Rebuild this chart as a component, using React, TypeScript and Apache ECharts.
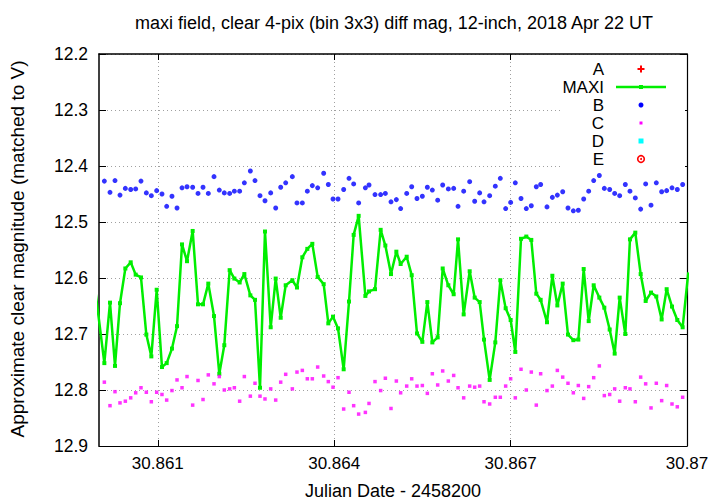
import React, { useEffect, useRef } from "react";
import * as echarts from "echarts";

const TITLE = "maxi field, clear 4-pix (bin 3x3) diff mag, 12-inch, 2018 Apr 22 UT";
const X_LABEL = "Julian Date - 2458200";
const Y_LABEL = "Approximate clear magnitude (matched to V)";
const X_TICKS = [30.861, 30.864, 30.867, 30.87];
const LEGEND_NAMES = ["A", "MAXI", "B", "C", "D", "E"];

const jd = [
  30.859911,
  30.860091, 30.860187, 30.860272, 30.860357, 30.860448, 30.860539, 30.860624, 30.860714, 30.860805, 30.86089,
  30.860981, 30.861071, 30.861151, 30.861241, 30.861327, 30.861412, 30.861497, 30.861593, 30.861684, 30.861769,
  30.861859, 30.861956, 30.862046, 30.862131, 30.862222, 30.862302, 30.862392, 30.862472, 30.862574, 30.862653,
  30.862738, 30.862823, 30.86292, 30.863005, 30.86309, 30.863175, 30.863288, 30.863367, 30.863458, 30.863543,
  30.863628, 30.863719, 30.863821, 30.8639, 30.86398, 30.864065, 30.864161, 30.864252, 30.864331, 30.864416,
  30.86453, 30.864592, 30.864694, 30.86479, 30.86487, 30.864966, 30.865057, 30.86513, 30.865233, 30.865318,
  30.865408, 30.865499, 30.865584, 30.865669, 30.86576, 30.865845, 30.865941, 30.866032, 30.866106, 30.866202,
  30.866304, 30.866389, 30.866474, 30.866548, 30.866644, 30.86674, 30.866825, 30.866916, 30.867001, 30.86708,
  30.867177, 30.867267, 30.867352, 30.867437, 30.867511, 30.867619, 30.86771, 30.867795, 30.867886, 30.867976,
  30.868067, 30.868152, 30.868243, 30.868328, 30.868413, 30.868509, 30.868594, 30.868685, 30.86877, 30.868855,
  30.868951, 30.86903, 30.869121, 30.869212, 30.869297, 30.869388, 30.869478, 30.869569, 30.869654, 30.869745,
  30.869835, 30.869926,
  30.870022,
];

const maxi = [
  12.6,
  12.752, 12.644, 12.757, 12.645, 12.583, 12.572, 12.594, 12.599, 12.701, 12.74,
  12.621, 12.759, 12.752, 12.726, 12.686, 12.54, 12.57, 12.516, 12.647, 12.647,
  12.61, 12.668, 12.771, 12.72, 12.586, 12.601, 12.608, 12.593, 12.631, 12.639,
  12.796, 12.517, 12.688, 12.601, 12.671, 12.613, 12.604, 12.617, 12.563, 12.548,
  12.539, 12.598, 12.611, 12.681, 12.669, 12.69, 12.763, 12.642, 12.523, 12.489,
  12.632, 12.624, 12.62, 12.514, 12.542, 12.593, 12.553, 12.575, 12.562, 12.595,
  12.699, 12.714, 12.643, 12.715, 12.706, 12.583, 12.613, 12.629, 12.531, 12.665,
  12.588, 12.635, 12.643, 12.71, 12.782, 12.715, 12.604, 12.654, 12.675, 12.732,
  12.53, 12.526, 12.532, 12.628, 12.639, 12.679, 12.596, 12.649, 12.61, 12.701,
  12.711, 12.71, 12.584, 12.677, 12.613, 12.635, 12.653, 12.692, 12.735, 12.635,
  12.7, 12.531, 12.519, 12.593, 12.641, 12.626, 12.633, 12.674, 12.62, 12.651,
  12.675, 12.688,
  12.59,
];

const compB = [
  null,
  12.427, 12.447, 12.426, 12.452, 12.44, 12.442, 12.441, 12.427, 12.448, 12.453,
  12.444, 12.45, 12.472, 12.454, 12.475, 12.439, 12.437, 12.438, 12.449, 12.438,
  12.449, 12.419, 12.443, 12.448, 12.449, 12.445, 12.445, 12.43, 12.409, 12.426,
  12.453, 12.462, 12.448, 12.475, 12.438, 12.43, 12.419, 12.466, 12.466, 12.445,
  12.435, 12.439, 12.413, 12.433, 12.459, 12.459, 12.442, 12.422, 12.432, 12.466,
  12.439, 12.434, 12.451, 12.451, 12.449, 12.464, 12.46, 12.476, 12.449, 12.437,
  12.458, 12.454, 12.438, 12.443, 12.461, 12.434, 12.441, 12.44, 12.472, 12.445,
  12.428, 12.463, 12.448, 12.464, 12.453, 12.436, 12.422, 12.476, 12.465, 12.43,
  12.458, 12.476, 12.471, 12.437, 12.433, 12.473, 12.456, 12.452, 12.446, 12.475,
  12.48, 12.479, 12.459, 12.445, 12.426, 12.417, 12.44, 12.442, 12.449, 12.453,
  12.433, 12.445, 12.457, 12.477, 12.432, 12.47, 12.43, 12.446, 12.444, 12.439,
  12.442, 12.433,
  null,
];

const compC = [
  null,
  12.786, 12.828, 12.803, 12.823, 12.82, 12.814, 12.805, 12.796, 12.804, 12.821,
  12.804, 12.808, 12.818, 12.801, 12.782, 12.796, 12.776, 12.827, 12.783, 12.817,
  12.773, 12.789, 12.776, 12.8, 12.798, 12.796, 12.82, 12.776, 12.811, 12.788,
  12.811, 12.816, 12.798, 12.818, 12.786, 12.772, 12.798, 12.768, 12.765, 12.78,
  12.78, 12.759, 12.775, 12.785, 12.795, 12.778, 12.834, 12.804, 12.828, 12.843,
  12.84, 12.824, 12.785, 12.801, 12.779, 12.833, 12.784, 12.805, 12.793, 12.78,
  12.793, 12.792, 12.806, 12.771, 12.791, 12.766, 12.784, 12.774, 12.796, 12.814,
  12.793, 12.795, 12.793, 12.821, 12.825, 12.813, 12.813, 12.793, 12.78, 12.814,
  12.763, 12.8, 12.768, 12.827, 12.771, 12.801, 12.793, 12.765, 12.777, 12.788,
  12.805, 12.792, 12.815, 12.794, 12.778, 12.757, 12.81, 12.808, 12.798, 12.82,
  12.796, 12.798, 12.821, 12.777, 12.789, 12.832, 12.788, 12.819, 12.792, 12.825,
  12.83, 12.813,
  null,
];

const FONT = "Liberation Sans, Arial, sans-serif";
const GREEN = "#00ee00";

function pairs(vals: (number | null)[]) {
  const out: [number, number][] = [];
  vals.forEach((v, i) => {
    if (v !== null) out.push([jd[i], v]);
  });
  return out;
}

export default function App() {
  const ref = useRef<HTMLDivElement>(null);
  useEffect(() => {
    if (!ref.current) return;
    const chart = echarts.init(ref.current, null, { renderer: "svg" });
    const gridStyle = { color: "#a0a0a0", width: 1, type: [1, 3] as any };
    const fmtX = (v: number) => String(Number(v.toFixed(3)));
    const fmtY = (v: number) => v.toFixed(1);
    const legX = 604;
    const symX = 641;
    const rowY = [69, 87, 105, 123, 141, 159];
    const legendGraphics: any[] = [
      {
        type: "rect",
        z: 1,
        shape: { x: 562, y: 55, width: 123, height: 113 },
        style: { fill: "#ffffff" },
        silent: true,
      },
    ];
    LEGEND_NAMES.forEach((n, i) => {
      legendGraphics.push({
        type: "text",
        z: 10,
        x: legX,
        y: rowY[i],
        style: {
          text: n,
          fill: "#000",
          font: `17px ${FONT}`,
          textAlign: "right",
          textVerticalAlign: "middle",
        },
      });
    });
    // A: red plus
    legendGraphics.push(
      { type: "rect", z: 10, shape: { x: symX - 3.5, y: rowY[0] - 1, width: 7, height: 2 }, style: { fill: "#ff0000" } },
      { type: "rect", z: 10, shape: { x: symX - 1, y: rowY[0] - 3.5, width: 2, height: 7 }, style: { fill: "#ff0000" } }
    );
    // MAXI: line with point
    legendGraphics.push(
      { type: "line", z: 10, shape: { x1: 616, y1: rowY[1], x2: 666, y2: rowY[1] }, style: { stroke: GREEN, lineWidth: 2.5 } },
      { type: "rect", z: 10, shape: { x: symX - 2, y: rowY[1] - 2, width: 4, height: 4 }, style: { fill: GREEN } }
    );
    // B: blue dot
    legendGraphics.push({ type: "circle", z: 10, shape: { cx: symX, cy: rowY[2], r: 2.5 }, style: { fill: "#0000ff" } });
    // C: magenta small square
    legendGraphics.push({ type: "rect", z: 10, shape: { x: symX - 1.5, y: rowY[3] - 1.5, width: 3, height: 3 }, style: { fill: "#ff00ff" } });
    // D: cyan square
    legendGraphics.push({ type: "rect", z: 10, shape: { x: symX - 2.5, y: rowY[4] - 2.5, width: 5, height: 5 }, style: { fill: "#00ffff" } });
    // E: red ring with centre dot
    legendGraphics.push(
      { type: "circle", z: 10, shape: { cx: symX, cy: rowY[5], r: 3.3 }, style: { fill: "none", stroke: "#ff0000", lineWidth: 1.6 } },
      { type: "circle", z: 10, shape: { cx: symX, cy: rowY[5], r: 1 }, style: { fill: "#ff0000" } }
    );

    chart.setOption({
      animation: false,
      backgroundColor: "#ffffff",
      textStyle: { fontFamily: FONT },
      grid: { left: 99, top: 54, right: 33, bottom: 58, containLabel: false },
      xAxis: [
        {
          type: "value",
          min: 30.86,
          max: 30.87,
          position: "bottom",
          axisLine: { show: true, onZero: false, lineStyle: { color: "#000", width: 1.2 } },
          axisTick: { show: true, inside: true, length: 6, customValues: X_TICKS, lineStyle: { color: "#000" } },
          axisLabel: { show: true, customValues: X_TICKS, formatter: fmtX, fontSize: 17, color: "#000", margin: 9, fontFamily: FONT },
          splitLine: { show: true, lineStyle: gridStyle },
        },
        {
          type: "value",
          min: 30.86,
          max: 30.87,
          position: "top",
          axisLine: { show: true, onZero: false, lineStyle: { color: "#000", width: 1.5 } },
          axisTick: { show: true, inside: true, length: 6, customValues: X_TICKS, lineStyle: { color: "#000" } },
          axisLabel: { show: false },
          splitLine: { show: false },
        },
      ],
      yAxis: [
        {
          type: "value",
          inverse: true,
          min: 12.2,
          max: 12.9,
          interval: 0.1,
          position: "left",
          axisLine: { show: true, onZero: false, lineStyle: { color: "#000", width: 1.5 } },
          axisTick: { show: true, inside: true, length: 7, lineStyle: { color: "#000" } },
          axisLabel: { show: true, formatter: fmtY, fontSize: 17.5, color: "#000", margin: 11, fontFamily: FONT },
          splitLine: { show: true, lineStyle: gridStyle },
        },
        {
          type: "value",
          inverse: true,
          min: 12.2,
          max: 12.9,
          interval: 0.1,
          position: "right",
          axisLine: { show: true, onZero: false, lineStyle: { color: "#000", width: 1.2 } },
          axisTick: { show: true, inside: true, length: 7, lineStyle: { color: "#000" } },
          axisLabel: { show: false },
          splitLine: { show: false },
        },
      ],
      graphic: [
        {
          type: "text",
          x: 394,
          y: 23,
          style: { text: TITLE, fill: "#000", font: `18px ${FONT}`, textAlign: "center", textVerticalAlign: "middle" },
        },
        {
          type: "text",
          x: 393,
          y: 491,
          style: { text: X_LABEL, fill: "#000", font: `18px ${FONT}`, textAlign: "center", textVerticalAlign: "middle" },
        },
        {
          type: "text",
          x: 17,
          y: 249,
          rotation: Math.PI / 2,
          style: { text: Y_LABEL, fill: "#000", font: `19px ${FONT}`, textAlign: "center", textVerticalAlign: "middle" },
        },
        ...legendGraphics,
      ],
      series: [
        {
          name: "MAXI",
          type: "line",
          xAxisIndex: 0,
          yAxisIndex: 0,
          data: pairs(maxi),
          symbol: "rect",
          symbolSize: 4,
          showSymbol: true,
          clip: true,
          lineStyle: { color: GREEN, width: 2.5 },
          itemStyle: { color: GREEN },
          z: 3,
        },
        {
          name: "B",
          type: "scatter",
          xAxisIndex: 0,
          yAxisIndex: 0,
          data: pairs(compB),
          symbol: "circle",
          symbolSize: 5,
          itemStyle: { color: "#0000ff" },
          z: 3,
        },
        {
          name: "C",
          type: "scatter",
          xAxisIndex: 0,
          yAxisIndex: 0,
          data: pairs(compC),
          symbol: "rect",
          symbolSize: 3.5,
          itemStyle: { color: "#ff00ff" },
          z: 3,
        },
      ],
    });
    return () => chart.dispose();
  }, []);
  return <div ref={ref} style={{ position: "fixed", left: 0, top: 0, width: 720, height: 504 }} />;
}
